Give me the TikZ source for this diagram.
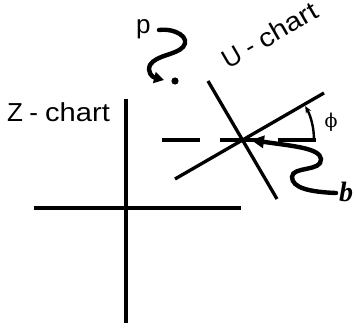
\documentclass[tikz,border=0pt]{standalone}
\usepackage{fontspec}
\setmainfont{Liberation Sans}
\newfontfamily\serifb{Liberation Serif}
\newfontfamily\dvs{DejaVu Serif}
\usetikzlibrary{arrows.meta}
\begin{document}
\begin{tikzpicture}[x=1pt,y=-1pt,
  axis/.style={line width=3.3pt},
  wavy/.style={line width=4.4pt, line cap=round},
  lbl/.style={inner sep=0pt, font=\fontsize{26}{26}\selectfont}]
\useasboundingbox (0,0) rectangle (356,331);
% Z-chart axes
\coordinate (zt) at (126,99);
\coordinate (zb) at (126,323);
\coordinate (zl) at (34,208);
\coordinate (zr) at (241,208);
\draw[axis] (zt) -- (zb);
\draw[axis] (zl) -- (zr);
\node[lbl, anchor=base west] (zlab) at (7,122) {Z\hspace{-1pt} - \scalebox{1.12}[1]{chart}};
% U-chart
\coordinate (o) at (244,140);
\coordinate (u1a) at (208,81);
\coordinate (u1b) at (277,199);
\coordinate (u2a) at (175,179);
\coordinate (u2b) at (324,93);
\coordinate (dl) at (162,140);
\coordinate (dr) at (316,140);
\draw[axis] (u1a) -- (u1b);
\draw[axis] (u2a) -- (u2b);
\draw[axis, dash pattern=on 38pt off 20pt] (dl) -- (dr);
\node[lbl, rotate=30] (ulab) at (270,35) {U\hspace{-1pt} - \scalebox{1.12}[1]{chart}};
% phi arc
\coordinate (arcs) at (314,140);
\draw[line width=2.4pt, -{Stealth[length=7pt,width=6pt]}] (arcs) arc[start angle=0, end angle=-29, radius=70];
\node[inner sep=0pt, font=\dvs\fontsize{19}{19}\selectfont] (phi) at (331,122) {ϕ};
% b
\node[inner sep=0pt, anchor=base west, font=\serifb\bfseries\itshape\fontsize{28}{28}\selectfont] (blab) at (339,202) {b};
\coordinate (bs) at (336,193);
\coordinate (bt) at (251,140);
\draw[wavy, -{Triangle[length=13pt,width=12pt]}] (bs) .. controls (310,192) and (292,188) .. (292,177)
  .. controls (292,166) and (322,172) .. (321,159)
  .. controls (320,148) and (292,146) .. (bt);
% p
\node[lbl, anchor=base west] (plab) at (136,34) {p};
\coordinate (ps) at (159,30);
\coordinate (pt) at (164,80);
\draw[wavy, -{Triangle[length=10pt,width=11pt]}] (ps) .. controls (176,28) and (191,38) .. (183,47)
  .. controls (176,55) and (156,55) .. (150,65)
  .. controls (147,72) and (152,77) .. (pt);
\fill (175,81) circle[radius=3.6pt];
\end{tikzpicture}
\end{document}
